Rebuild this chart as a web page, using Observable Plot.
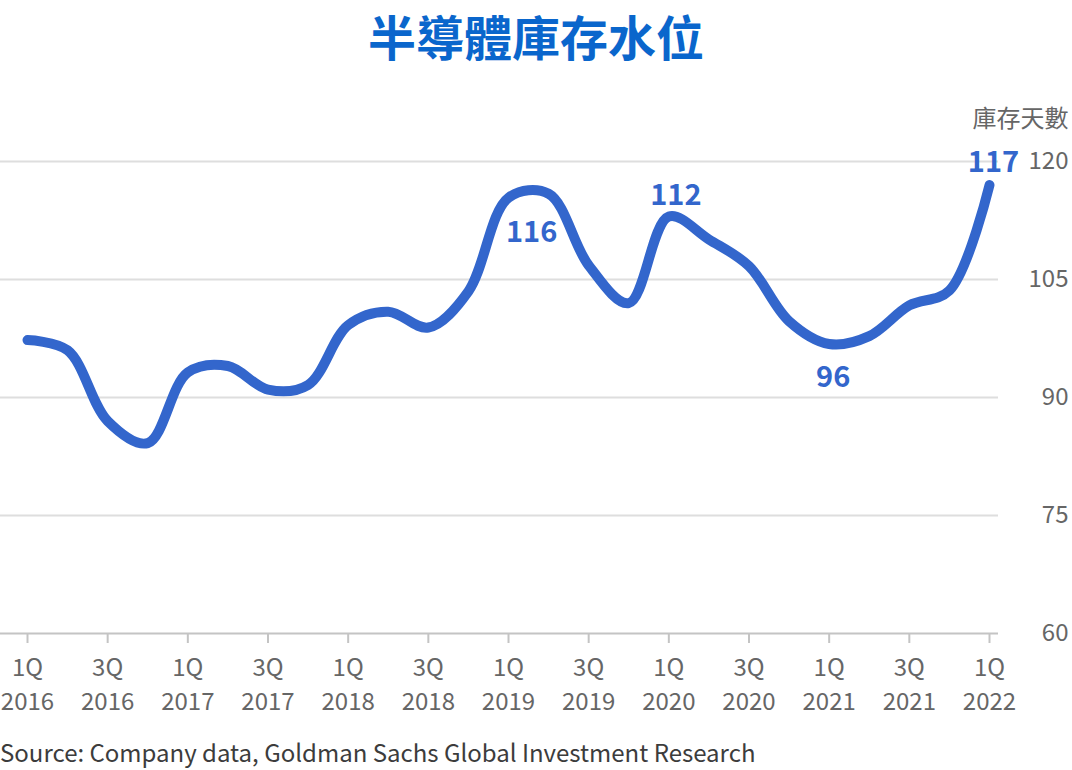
<!DOCTYPE html>
<html><head><meta charset="utf-8">
<script src="https://cdn.jsdelivr.net/npm/d3@7"></script>
<script src="https://cdn.jsdelivr.net/npm/@observablehq/plot@0.6"></script>
<style>
body{margin:0;background:#fff;font-family:"Noto Sans CJK TC","Noto Sans",sans-serif;}
#wrap{width:1072px;height:770px;position:relative;overflow:hidden;background:#fff}
h1{margin:0;height:80px;line-height:70px;text-align:center;font-size:48px;font-weight:700;color:#0a66cc;}
#chart svg{display:block}
#src{position:absolute;left:0;top:734px;font-size:24px;color:#3c3c3c;line-height:36px;white-space:nowrap}
</style></head>
<body><div id="wrap"><h1>半導體庫存水位</h1><div id="chart"></div><div id="src">Source: Company data, Goldman Sachs Global Investment Research</div></div>
<script>
const quarters = ["1Q 2016","2Q 2016","3Q 2016","4Q 2016","1Q 2017","2Q 2017","3Q 2017","4Q 2017",
  "1Q 2018","2Q 2018","3Q 2018","4Q 2018","1Q 2019","2Q 2019","3Q 2019","4Q 2019",
  "1Q 2020","2Q 2020","3Q 2020","4Q 2020","1Q 2021","2Q 2021","3Q 2021","4Q 2021","1Q 2022"];
const values = [97.3, 96.0, 87.0, 84.2, 93.2, 94.0, 91.0, 91.6, 99.2, 100.9, 98.9, 103.5,
  115.4, 115.9, 106.8, 102.0, 113.0, 110.1, 106.7, 99.7, 96.8, 97.8, 101.7, 103.6, 117];
const yTicks = [60, 75, 90, 105, 120];
const xTickIdx = d3.range(0, quarters.length, 2);
const labelIdx = [13, 16, 20, 24];
const labelText = ["116", "112", "96", "117"];
const yTitle = "庫存天數";

const labelOffsets = [[-17, 39], [7, -21], [4, 34], [4, -22]];
const rows = values.map((v, i) => ({i, v}));

const chart = Plot.plot({
  width: 1072, height: 650,
  marginLeft: 0, marginRight: 74, marginTop: 81, marginBottom: 97,
  insetLeft: 27, insetRight: 9,
  style: {fontFamily: '"Noto Sans CJK TC","Noto Sans",sans-serif', fontSize: "24px", background: "white", overflow: "visible"},
  x: {type: "linear", domain: [0, quarters.length - 1]},
  y: {domain: [60, 120]},
  marks: [
    Plot.gridY(yTicks.filter(d => d > 60), {stroke: "#dedede", strokeOpacity: 1, strokeWidth: 2}),
    Plot.ruleY([60], {stroke: "#c4c4c4", strokeWidth: 2}),
    Plot.axisX(xTickIdx, {tickSize: 10, tickPadding: 8, stroke: "#c4c4c4", strokeWidth: 2,
      tickFormat: i => quarters[i].replace(" ", "\n"), fontSize: 24, fill: "#666", lineHeight: 1.42, label: null}),
    Plot.axisY(yTicks, {anchor: "right", tickSize: 0, tickPadding: 70, textAnchor: "end",
      fontSize: 24, fill: "#666", label: null}),
    Plot.text([yTitle], {frameAnchor: "top-right", dx: 70, dy: -42, textAnchor: "end", lineAnchor: "middle", fontSize: 24, fill: "#666"}),
    Plot.line(rows, {x: "i", y: "v", curve: "catmull-rom", stroke: "#3366cc", strokeWidth: 10,
      strokeLinecap: "round", strokeLinejoin: "round"}),
    ...labelIdx.map((k, j) => Plot.text([rows[k]], {x: "i", y: "v", text: () => labelText[j],
      dx: labelOffsets[j][0], dy: labelOffsets[j][1], fontSize: 29, fontWeight: 700, fill: "#3366cc"}))
  ]
});
document.getElementById("chart").appendChild(chart);
</script>
</body></html>
